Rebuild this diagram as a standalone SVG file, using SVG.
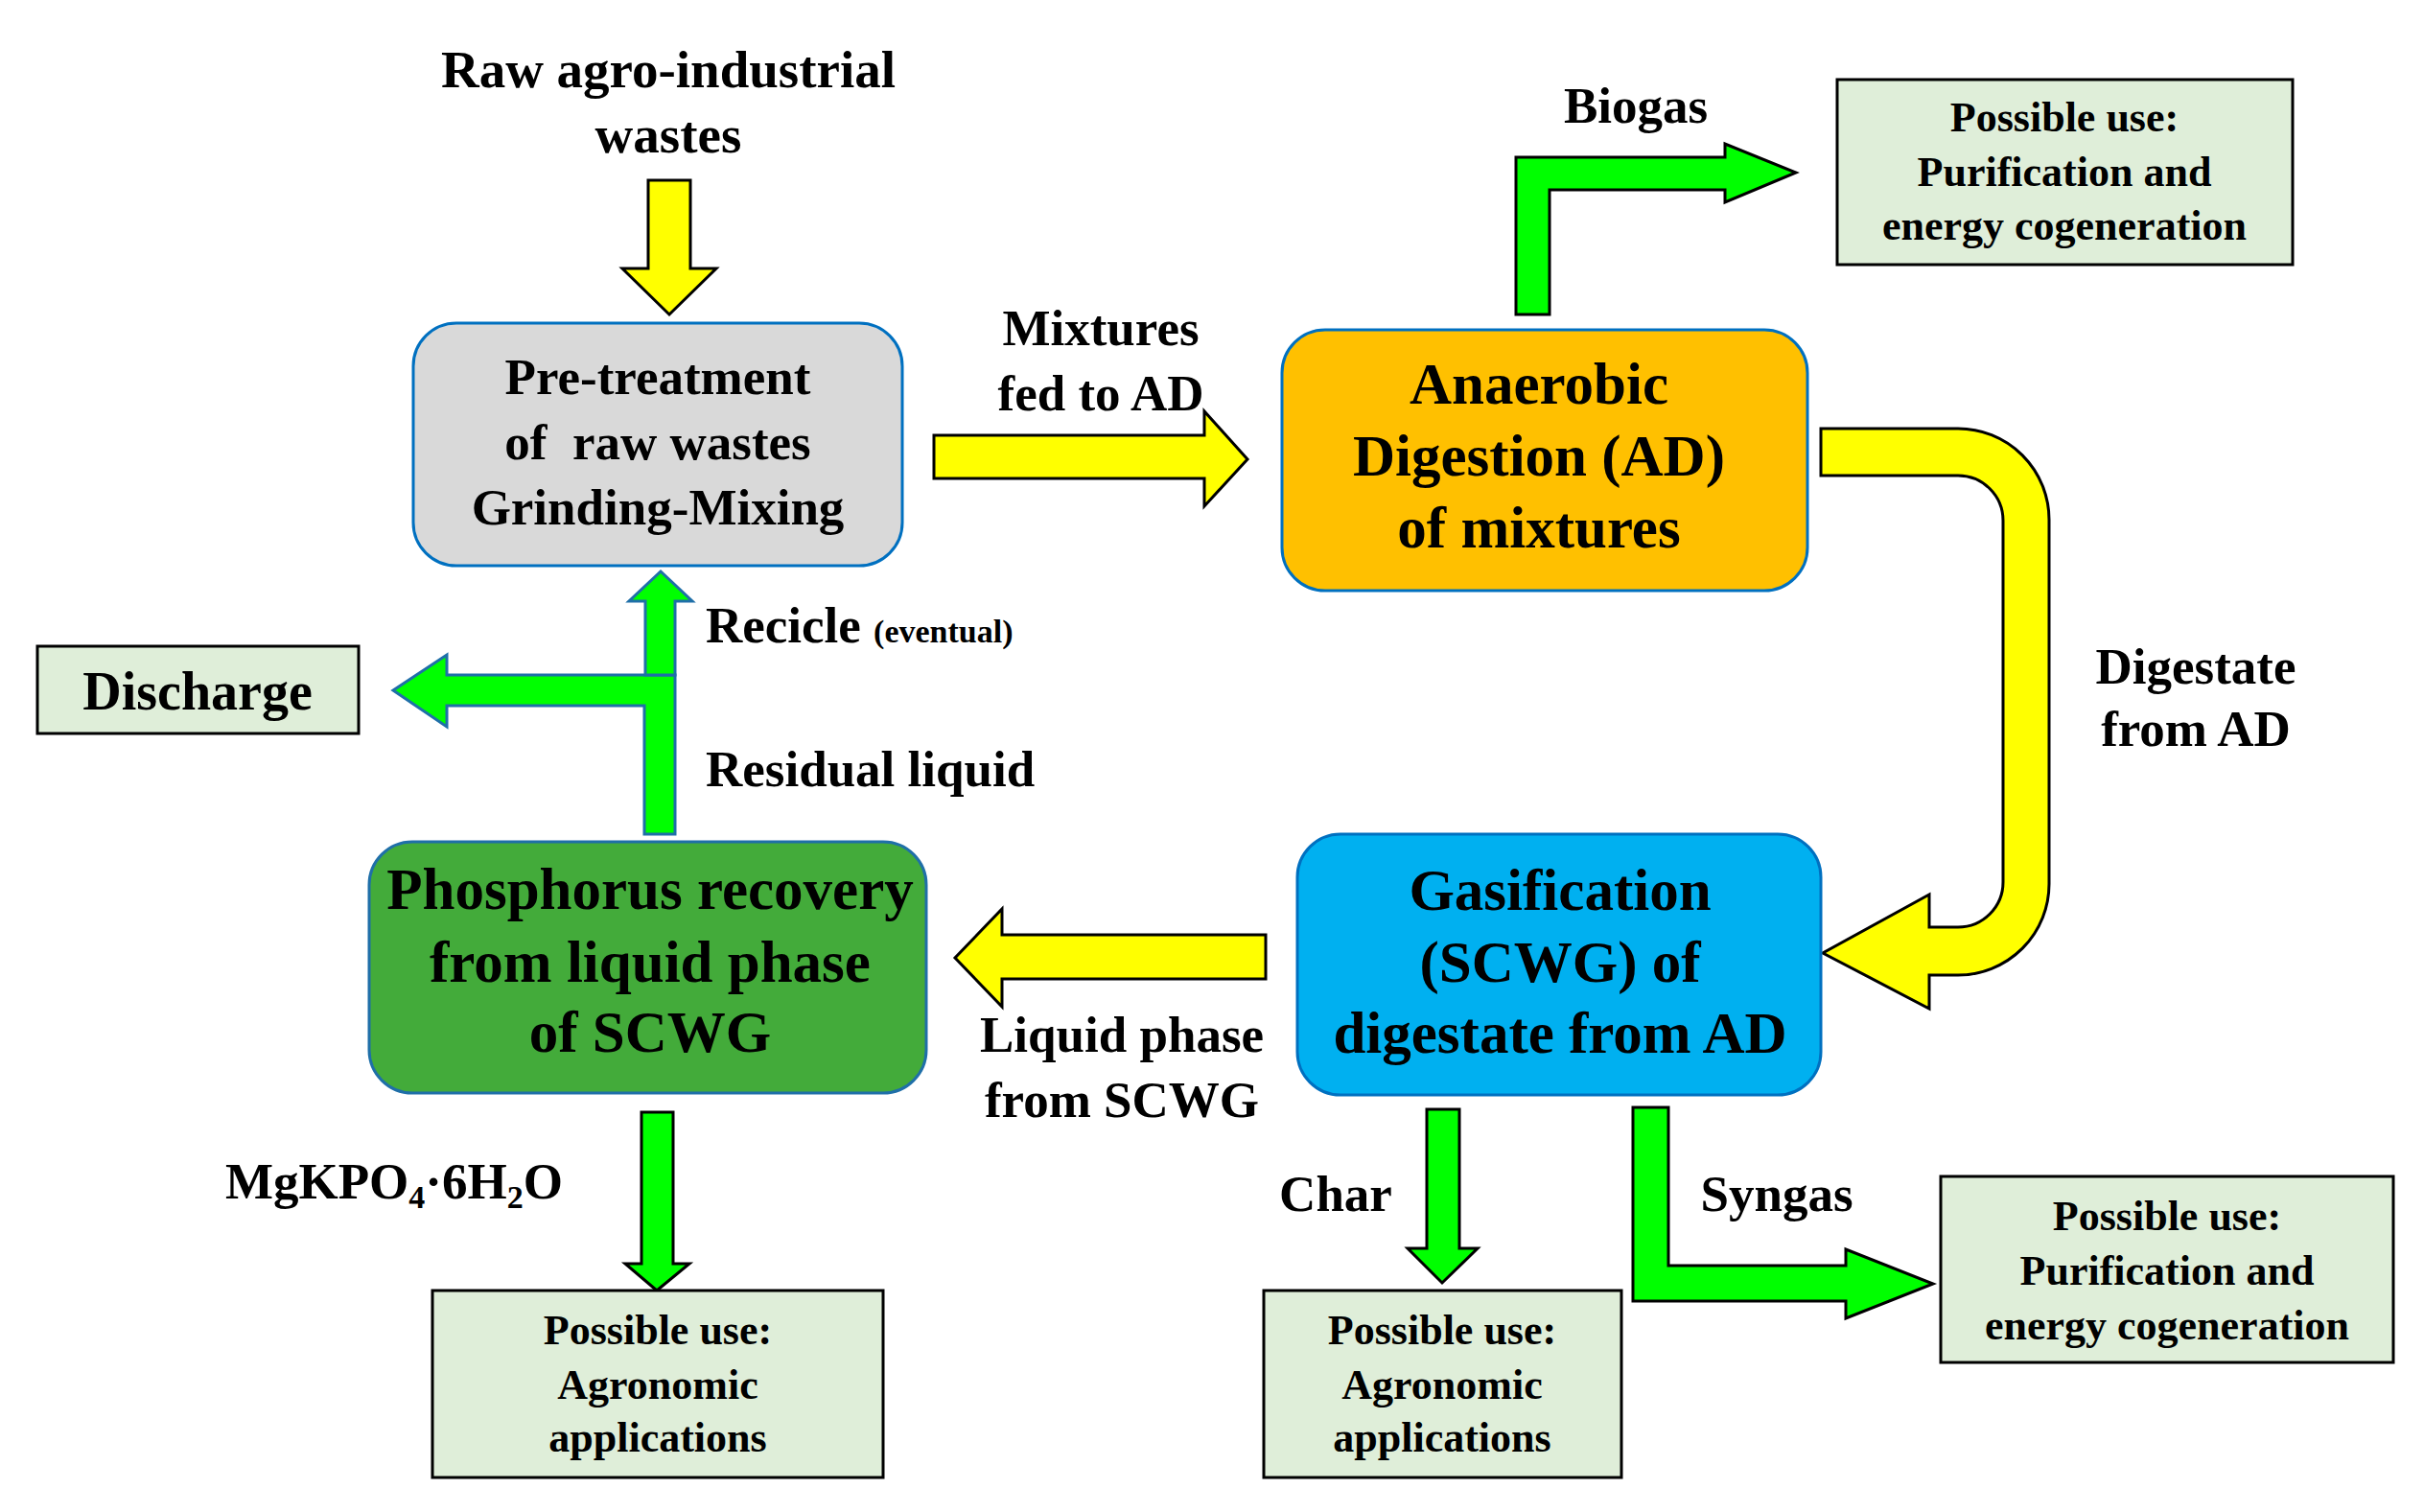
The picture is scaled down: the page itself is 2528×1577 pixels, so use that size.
<svg xmlns="http://www.w3.org/2000/svg" width="2528" height="1577" viewBox="0 0 2528 1577">
<style>
text{font-family:"Liberation Serif","Times New Roman",serif;font-weight:bold;fill:#000;text-anchor:middle}
.lbl{font-size:53px}
.big{font-size:61px}
.use{font-size:44px}
.proc{stroke:#0070c0;stroke-width:3}
.usebox{fill:#dfeed9;stroke:#000;stroke-width:3}
.ya{fill:#ffff00;stroke:#000;stroke-width:3;stroke-linejoin:miter}
.ga{fill:#00ff00;stroke:#000;stroke-width:3}
.gb{fill:#00ff00;stroke:#1f6fa8;stroke-width:3}
</style>
<g id="connectors">
<path class="ya" d="M676,188 L720,188 L720,280 L747,280 L698,328 L649,280 L676,280 Z"/>
<path class="ya" d="M974,454 L1256,454 L1256,429 L1301,479 L1256,528 L1256,499 L974,499 Z"/>
<path class="ga" d="M1581,328 L1581,164 L1799,164 L1799,150 L1873,180 L1799,211 L1799,198 L1616,198 L1616,328 Z"/>
<path class="ya" d="M1899,447 L2042,447 A95,95 0 0 1 2137,542 L2137,922 A95,95 0 0 1 2042,1017 L2012,1017 L2012,1052 L1901,994 L2012,933 L2012,967 L2042,967 A47,47 0 0 0 2089,920 L2089,543 A47,47 0 0 0 2042,496 L1899,496 Z"/>
<path class="ya" d="M1320,975 L1045,975 L1045,948 L996,999 L1045,1050 L1045,1021 L1320,1021 Z"/>
<path class="ga" d="M1488,1157 L1522,1157 L1522,1302 L1541,1302 L1504,1338 L1468,1302 L1488,1302 Z"/>
<path class="ga" d="M1703,1155 L1740,1155 L1740,1320 L1925,1320 L1925,1303 L2016,1339 L1925,1375 L1925,1357 L1703,1357 Z"/>
<path class="ga" d="M669,1160 L702,1160 L702,1318 L719,1318 L685,1346 L652,1318 L669,1318 Z"/>
<path class="gb" d="M672,870 L672,736 L466,736 L466,758 L410,720 L466,683 L466,704 L672,704 L704,704 L704,870 Z"/>
<path class="gb" d="M673,704 L673,627 L656,627 L689,596 L722,627 L704,627 L704,704 Z"/>
</g>
<g id="raw"><text class="lbl" x="697" y="91" style="font-size:55px">Raw agro-industrial</text><text class="lbl" x="697" y="159" style="font-size:55px">wastes</text></g>
<g id="pretreatment">
<rect class="proc" x="431" y="337" width="510" height="253" rx="45" fill="#d9d9d9"/>
<text class="lbl" x="686" y="411">Pre-treatment</text>
<text class="lbl" x="686" y="479" xml:space="preserve">of  raw wastes</text>
<text class="lbl" x="686" y="547">Grinding-Mixing</text>
</g>
<g id="mixtures"><text class="lbl" x="1148" y="360">Mixtures</text><text class="lbl" x="1148" y="428">fed to AD</text></g>
<g id="ad">
<rect class="proc" x="1337" y="344" width="548" height="272" rx="45" fill="#ffc000"/>
<text class="big" x="1605" y="421">Anaerobic</text>
<text class="big" x="1605" y="496">Digestion (AD)</text>
<text class="big" x="1605" y="571">of mixtures</text>
</g>
<g id="biogas"><text class="lbl" x="1706" y="128">Biogas</text></g>
<g id="use1">
<rect class="usebox" x="1916" y="83" width="475" height="193"/>
<text class="use" x="2153" y="137">Possible use:</text>
<text class="use" x="2153" y="194">Purification and</text>
<text class="use" x="2153" y="250">energy cogeneration</text>
</g>
<g id="digestate"><text class="lbl" x="2290" y="713">Digestate</text><text class="lbl" x="2290" y="778">from AD</text></g>
<g id="scwg">
<rect class="proc" x="1353" y="870" width="546" height="272" rx="45" fill="#00b0f0"/>
<text class="big" x="1627" y="949">Gasification</text>
<text class="big" x="1627" y="1024">(SCWG) of</text>
<text class="big" x="1627" y="1098">digestate from AD</text>
</g>
<g id="liquidphase"><text class="lbl" x="1170" y="1097">Liquid phase</text><text class="lbl" x="1170" y="1165">from SCWG</text></g>
<g id="phosphorus">
<rect x="385" y="878" width="581" height="262" rx="45" fill="#43ab3a" stroke="#1f6fa8" stroke-width="3"/>
<text class="big" x="678" y="948">Phosphorus recovery</text>
<text class="big" x="678" y="1024">from liquid phase</text>
<text class="big" x="678" y="1097">of SCWG</text>
</g>
<g id="recicle"><text class="lbl" x="736" y="670" style="text-anchor:start">Recicle <tspan style="font-size:34px">(eventual)</tspan></text></g>
<g id="residual"><text class="lbl" x="736" y="820" style="text-anchor:start">Residual liquid</text></g>
<g id="discharge"><rect class="usebox" x="39" y="674" width="335" height="91"/><text class="lbl" x="206" y="740" style="font-size:56px">Discharge</text></g>
<g id="mgkpo"><text class="lbl" x="235" y="1250" style="text-anchor:start">MgKPO<tspan style="font-size:34px" dy="10">4</tspan><tspan dy="-10">·6H</tspan><tspan style="font-size:34px" dy="10">2</tspan><tspan dy="-10">O</tspan></text></g>
<g id="use2">
<rect class="usebox" x="451" y="1346" width="470" height="195"/>
<text class="use" x="686" y="1402">Possible use:</text>
<text class="use" x="686" y="1459">Agronomic</text>
<text class="use" x="686" y="1514">applications</text>
</g>
<g id="char"><text class="lbl" x="1393" y="1263">Char</text></g>
<g id="syngas"><text class="lbl" x="1853" y="1263">Syngas</text></g>
<g id="use3">
<rect class="usebox" x="1318" y="1346" width="373" height="195"/>
<text class="use" x="1504" y="1402">Possible use:</text>
<text class="use" x="1504" y="1459">Agronomic</text>
<text class="use" x="1504" y="1514">applications</text>
</g>
<g id="use4">
<rect class="usebox" x="2024" y="1227" width="472" height="194"/>
<text class="use" x="2260" y="1283">Possible use:</text>
<text class="use" x="2260" y="1340">Purification and</text>
<text class="use" x="2260" y="1397">energy cogeneration</text>
</g>
</svg>
